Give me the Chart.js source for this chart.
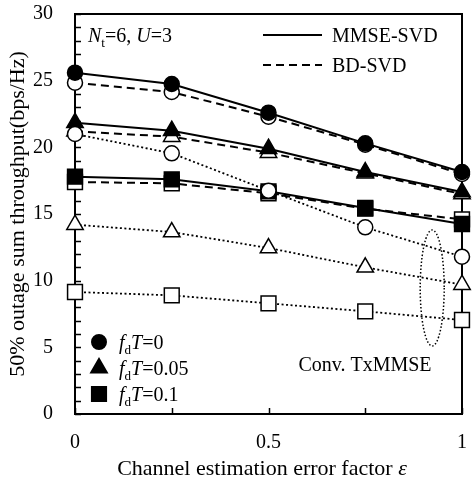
<!DOCTYPE html>
<html>
<head>
<meta charset="utf-8">
<script src="https://cdn.jsdelivr.net/npm/chart.js@4.4.0/dist/chart.umd.min.js"></script>
<style>
  body { margin: 0; background: #fff; }
  canvas { display: block; }
</style>
</head>
<body>
<canvas id="canvas" width="474" height="486"></canvas>
<script>
// channel estimation error factor (x axis)
let eps = [0, 0.25, 0.5, 0.75, 1];

// 50% outage sum throughput
let mmse0  = [25.6, 24.75, 22.6, 20.3, 18.15];
let bd0    = [24.85, 24.15, 22.3, 20.2, 18.0];
let conv0  = [21.0, 19.55, 16.75, 14.0, 11.8];
let mmse05 = [21.85, 21.25, 19.9, 18.15, 16.65];
let bd05   = [21.2, 20.8, 19.6, 18.05, 16.5];
let conv05 = [14.2, 13.65, 12.45, 11.0, 9.7];
let mmse1  = [17.8, 17.6, 16.7, 15.45, 14.25];
let bd1    = [17.4, 17.3, 16.55, 15.4, 14.6];
let conv1  = [9.15, 8.9, 8.3, 7.7, 7.05];

let xLabels = [0, 0.5, 1];
let yLabels = [0, 5, 10, 15, 20, 25, 30];

const SERIF = '"Liberation Serif", "DejaVu Serif", serif';

// marker shape / size per fdT value
let shapes = [
  { style: 'circle',   r: 7.5 },
  { style: 'triangle', r: 9.5 },
  { style: 'rect',     r: 10.5 }
];

function series(values, shape, kind) {
  let filled = kind === 'mmse';
  return {
    data: eps.map((x, i) => ({ x: x, y: values[i] })),
    borderColor: '#000',
    borderWidth: kind === 'conv' ? 1.8 : 2,
    borderDash: kind === 'bd' ? [8, 5] : (kind === 'conv' ? [2, 2.5] : []),
    pointStyle: shape.style,
    pointRadius: shape.r,
    pointBorderWidth: 1.5,
    pointBorderColor: '#000',
    pointBackgroundColor: filled ? '#000' : '#fff',
    tension: 0,
    clip: false,
    // conv on top, then MMSE, BD underneath
    order: kind === 'conv' ? 0 : (kind === 'mmse' ? 1 : 2)
  };
}

let datasets = [
  series(mmse0, shapes[0], 'mmse'), series(bd0, shapes[0], 'bd'), series(conv0, shapes[0], 'conv'),
  series(mmse05, shapes[1], 'mmse'), series(bd05, shapes[1], 'bd'), series(conv05, shapes[1], 'conv'),
  series(mmse1, shapes[2], 'mmse'), series(bd1, shapes[2], 'bd'), series(conv1, shapes[2], 'conv')
];

// draw text made of runs (italic, subscript)
function runsWidth(ctx, runs, size) {
  let w = 0;
  for (let r of runs) {
    let s = r.sub ? size * 0.65 : size;
    ctx.font = (r.i ? 'italic ' : '') + s + 'px ' + SERIF;
    w += ctx.measureText(r.t).width;
  }
  return w;
}
function drawRuns(ctx, x, y, runs, size) {
  for (let r of runs) {
    let s = r.sub ? size * 0.65 : size;
    ctx.font = (r.i ? 'italic ' : '') + s + 'px ' + SERIF;
    ctx.fillText(r.t, x, y + (r.sub ? size * 0.25 : 0));
    x += ctx.measureText(r.t).width;
  }
}

// frame, inward ticks, legends and annotations
let decor = {
  id: 'decor',
  beforeDatasetsDraw(chart) {
    let ctx = chart.ctx, a = chart.chartArea;
    let xs = chart.scales.x, ys = chart.scales.y;
    ctx.save();
    ctx.strokeStyle = '#000';
    ctx.lineWidth = 2;
    ctx.strokeRect(a.left, a.top, a.right - a.left, a.bottom - a.top);
    ctx.lineWidth = 1.5;
    ctx.beginPath();
    ys.ticks.forEach(t => {
      let py = Math.round(ys.getPixelForValue(t.value)) + 0.5;
      ctx.moveTo(a.left, py); ctx.lineTo(a.left + 6, py);
    });
    xs.ticks.forEach(t => {
      let px = Math.round(xs.getPixelForValue(t.value)) + 0.5;
      ctx.moveTo(px, a.bottom); ctx.lineTo(px, a.bottom - 6);
    });
    ctx.stroke();

    // dotted ellipse round the Conv. TxMMSE curves
    ctx.lineWidth = 1.5;
    ctx.setLineDash([1.5, 2]);
    ctx.beginPath();
    let cx = xs.getPixelForValue(0.923), cy = ys.getPixelForValue(9.45);
    ctx.ellipse(cx, cy, 12, 58, 0, 0, Math.PI * 2);
    ctx.stroke();
    ctx.setLineDash([]);
    ctx.restore();
  },
  afterDatasetsDraw(chart) {
    let ctx = chart.ctx, a = chart.chartArea;
    ctx.save();
    ctx.fillStyle = '#000';
    ctx.strokeStyle = '#000';
    ctx.textBaseline = 'alphabetic';

    drawRuns(ctx, a.left + 13, 42, [
      { t: 'N', i: true }, { t: 't', sub: true }, { t: '=6, ' },
      { t: 'U', i: true }, { t: '=3' }
    ], 20);

    // x axis title with italic epsilon
    let xt = [{ t: 'Channel estimation error factor ' }, { t: '\u03b5', i: true }];
    let w = runsWidth(ctx, xt, 22);
    drawRuns(ctx, 262 - w / 2, 475, xt, 22);

    // line style legend
    ctx.lineWidth = 2;
    ctx.beginPath();
    ctx.moveTo(263, 35); ctx.lineTo(322, 35);
    ctx.stroke();
    ctx.setLineDash([8, 5]);
    ctx.beginPath();
    ctx.moveTo(263, 65); ctx.lineTo(322, 65);
    ctx.stroke();
    ctx.setLineDash([]);
    ctx.font = '20px ' + SERIF;
    ctx.fillText('MMSE-SVD', 332, 42);
    ctx.fillText('BD-SVD', 332, 72);

    // marker legend
    let labels = ['0', '0.05', '0.1'];
    let ly = [342, 368, 394];
    let lr = [7, 9, 10];
    labels.forEach((lab, i) => {
      Chart.helpers.drawPoint(ctx, {
        pointStyle: shapes[i].style, radius: lr[i], borderWidth: 1.5
      }, 99, ly[i]);
      ctx.fill();
      drawRuns(ctx, 119, ly[i] + 7, [
        { t: 'f', i: true }, { t: 'd', sub: true }, { t: 'T', i: true }, { t: '=' + lab }
      ], 20);
    });

    ctx.font = '20px ' + SERIF;
    ctx.textAlign = 'center';
    ctx.fillText('Conv. TxMMSE', 365, 371);
    ctx.restore();
  }
};

let options = {
  type: 'line',
  data: { datasets: datasets },
  options: {
    animation: false,
    responsive: false,
    layout: { padding: { top: 14, right: 9, left: 0, bottom: 0 } },
    plugins: { legend: { display: false }, tooltip: { enabled: false } },
    scales: {
      x: {
        type: 'linear', min: 0, max: 1,
        grid: { display: false, drawTicks: false },
        border: { display: false },
        ticks: {
          stepSize: 0.25, autoSkip: false, maxRotation: 0, padding: 17,
          color: '#000', font: { family: SERIF, size: 20 },
          callback: v => xLabels.includes(v) ? String(v) : ''
        },
        afterFit: s => { s.height = 72; s.paddingLeft = 0; s.paddingRight = 0; }
      },
      y: {
        min: 0, max: 30,
        grid: { display: false, drawTicks: false },
        border: { display: false },
        ticks: {
          stepSize: 1, autoSkip: false, padding: 22,
          color: '#000', font: { family: SERIF, size: 20 },
          callback: v => yLabels.includes(v) ? String(v) : ''
        },
        title: {
          display: true, text: '50% outage sum throughput(bps/Hz)',
          color: '#000', font: { family: SERIF, size: 22 }, padding: { top: 5, bottom: 0 }
        },
        afterFit: s => { s.width = 75; s.paddingTop = 0; s.paddingBottom = 0; }
      }
    }
  },
  plugins: [decor]
};

let chart = new Chart(document.getElementById('canvas'), options);
</script>
</body>
</html>
